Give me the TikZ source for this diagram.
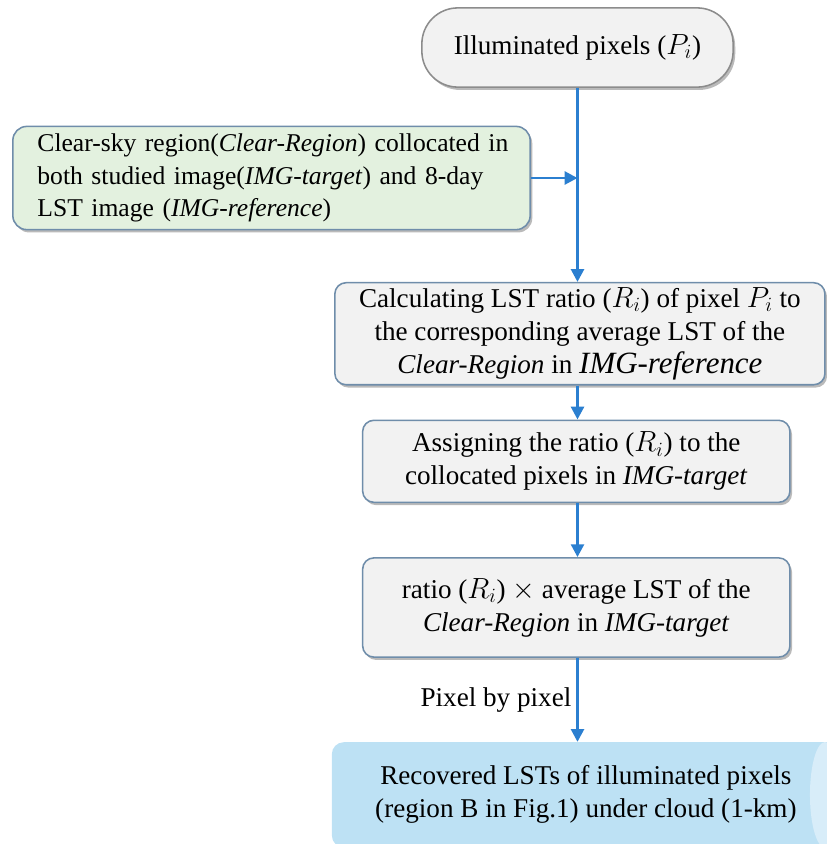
\documentclass[tikz,border=0pt]{standalone}
\usepackage{fontspec}
\setmainfont{Liberation Serif}
\usepackage{tikz}
\usetikzlibrary{shapes.geometric,arrows.meta,positioning,calc,shadows}
\definecolor{flowblue}{HTML}{2B7FD0}
\definecolor{edgegray}{HTML}{6F8DAA}
\definecolor{stadgray}{HTML}{8C8C8C}
\definecolor{boxgray}{HTML}{F2F2F2}
\definecolor{boxgreen}{HTML}{E3F1DF}
\definecolor{cylbody}{HTML}{BDE1F4}
\definecolor{cylcap}{HTML}{D8EDF9}
\tikzset{
  BX/.style={draw=edgegray, fill=boxgray, rectangle, rounded corners=8pt,
             align=center, font=\fontsize{19.3}{23.5}\selectfont,
             inner sep=0pt, line width=1.1pt,
             drop shadow={shadow xshift=1.5pt, shadow yshift=-2pt,
                          opacity=0.45, fill=black!60}},
  ST/.style={BX, draw=stadgray, rounded corners=0.9cm},
  SA/.style={-{Triangle[length=3.2mm, width=3.2mm]}, line width=2.1pt, color=flowblue}
}

\begin{document}
\begin{tikzpicture}[x=0.025cm, y=-0.025cm,
  CY/.style={rectangle, fill=cylbody, rounded corners=0.3cm, align=center,
             font=\fontsize{19.3}{23.5}\selectfont, inner sep=0pt,
             path picture={\fill[cylcap] ([xshift=-0.375cm]path picture bounding box.east)
                           ellipse [x radius=0.375cm, y radius=1.32cm];}}
]
\useasboundingbox (0,0) rectangle (827,844);

% ---- input pixels ----
\node[ST, minimum width=7.78cm, minimum height=1.98cm] (PIX) at (577.5,47.5)
    {Illuminated pixels ($P_i$)};

% ---- clear-sky side input ----
\node[BX, fill=boxgreen, rounded corners=10pt, minimum width=12.93cm,
      minimum height=2.58cm, text width=11.7cm, align=left,
      font=\fontsize{18.2}{23}\selectfont] (CLR) at (271.5,178)
    {\makebox[\linewidth][s]{Clear-sky region(\textit{Clear-Region}) collocated in}\\
     \makebox[\linewidth][s]{both studied image(\textit{IMG-target}) and 8-day}\\
     LST image (\textit{IMG-reference})};

% ---- processing steps ----
\node[BX, minimum width=12.25cm, minimum height=2.55cm,
      below=4.85cm of PIX, xshift=0.06cm] (CALC)
    {Calculating LST ratio ($R_i$) of pixel $P_i$ to\\
     the corresponding average LST of the\\
     \textit{Clear-Region} in {\fontsize{22}{23.5}\selectfont\textit{IMG-reference}}};

\node[BX, minimum width=10.68cm, minimum height=2.05cm,
      below=0.85cm of CALC, xshift=-0.09cm] (ASG)
    {Assigning the ratio ($R_i$) to the\\
     collocated pixels in \textit{IMG-target}};

\node[BX, minimum width=10.68cm, minimum height=2.48cm,
      below=1.35cm of ASG] (MUL)
    {ratio ($R_i$) $\times$ average LST of the\\
     \textit{Clear-Region} in \textit{IMG-target}};

% ---- output ----
\node[CY, minimum width=12.7cm, minimum height=2.63cm,
      below=2.1cm of MUL, xshift=0.24cm] (OUT)
    {Recovered LSTs of illuminated pixels\\
     (region B in Fig.1) under cloud (1-km)};

% ---- arrows ----
\draw[SA] (PIX.south) -- (PIX.south |- CALC.north);
\draw[SA] (CLR.east) -- (CLR.east -| PIX.south);
\draw[SA] (CALC.south -| PIX.south) -- (PIX.south |- ASG.north);
\draw[SA] (ASG.south -| PIX.south) -- (PIX.south |- MUL.north);
\draw[SA] (MUL.south -| PIX.south) -- (PIX.south |- OUT.north)
    node[midway, left, font=\fontsize{19.3}{23.5}\selectfont, color=black] {Pixel by pixel};

\end{tikzpicture}
\end{document}
